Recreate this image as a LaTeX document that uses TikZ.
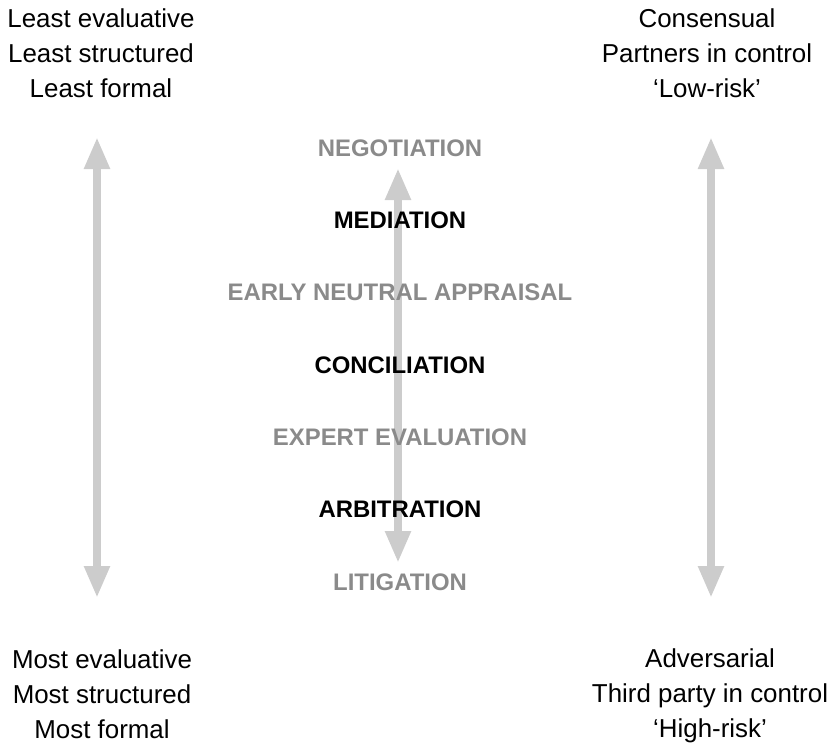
\documentclass[tikz,border=0pt]{standalone}
\usepackage{fontspec}
\setmainfont{Liberation Sans}
\usetikzlibrary{arrows.meta}
\definecolor{shaftgrey}{HTML}{CCCCCC}
\definecolor{softgrey}{HTML}{8A8A8A}
\tikzset{
  side/.style={align=center, font=\fontsize{26}{35}\selectfont, inner sep=0pt},
  method/.style={font=\fontsize{24}{28}\selectfont\bfseries, inner sep=0pt},
  soft/.style={method, text=softgrey},
  hard/.style={method, text=black},
  scalebar/.style={draw=shaftgrey, line width=8bp,
    {Triangle[width=24bp,length=32bp]}-{Triangle[width=24bp,length=32bp]}}
}
\begin{document}
\begin{tikzpicture}[x=1bp, y=-1bp, node distance=72.3bp]
   \useasboundingbox (0,0) rectangle (833,747);
   % ends of the three scales
   \coordinate (LT) at (97,137);
   \coordinate (LB) at (97,598);
   \coordinate (MT) at (398,168);
   \coordinate (MB) at (398,563);
   \coordinate (RT) at (711,137);
   \coordinate (RB) at (711,598);
   \draw[scalebar] (LT) -- (LB);
   \draw[scalebar] (MT) -- (MB);
   \draw[scalebar] (RT) -- (RB);

   \node (topL) [side] at (101,53)  {Least evaluative\\Least structured\\Least formal};
   \node (botL) [side] at (102,694) {Most evaluative\\Most structured\\Most formal};
   \node (topR) [side] at (707,53)  {Consensual\\Partners in control\\‘Low-risk’};
   \node (botR) [side] at (710,696) {Adversarial\\Third party in control\\‘High-risk’};

   \node (neg) [soft] at (400,148) {NEGOTIATION};
   \node (med) [hard, below of=neg] {MEDIATION};
   \node (ena) [soft, below of=med] {EARLY NEUTRAL APPRAISAL};
   \node (con) [hard, below of=ena] {CONCILIATION};
   \node (exp) [soft, below of=con] {EXPERT EVALUATION};
   \node (arb) [hard, below of=exp] {ARBITRATION};
   \node (lit) [soft, below of=arb] {LITIGATION};
\end{tikzpicture}
\end{document}
